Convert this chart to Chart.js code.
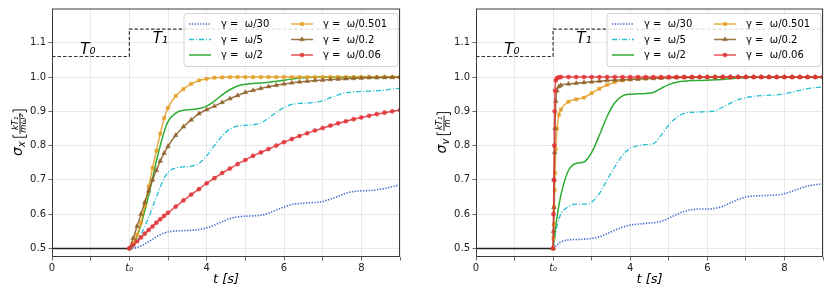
<!DOCTYPE html>
<html>
<head>
<meta charset="utf-8">
<script src="https://cdn.jsdelivr.net/npm/chart.js@4.4.0/dist/chart.umd.min.js"></script>
<style>
body{margin:0;background:#fff;width:831px;height:295px;overflow:hidden;position:relative}
canvas{position:absolute;top:0}
#chartX{left:0}
#chartV{left:415px}
</style>
</head>
<body>
<canvas id="chartX" width="415" height="295"></canvas>
<canvas id="chartV" width="416" height="295"></canvas>
<script>
// time grids (s)
const T_LEFT = [2.0, 2.1, 2.2, 2.3, 2.4, 2.5, 2.6, 2.7, 2.8, 2.9, 3.0,
  3.2, 3.4, 3.6, 3.8, 4.0, 4.2, 4.4, 4.6, 4.8, 5.0, 5.2, 5.4, 5.6, 5.8, 6.0,
  6.2, 6.4, 6.6, 6.8, 7.0, 7.2, 7.4, 7.6, 7.8, 8.0, 8.2, 8.4, 8.6, 8.8, 9.0];
const T_RIGHT = [2.0, 2.01, 2.02, 2.03, 2.04, 2.05, 2.07, 2.1, 2.15, 2.2, 2.4, 2.6, 2.8, 3.0,
  3.2, 3.4, 3.6, 3.8, 4.0, 4.2, 4.4, 4.6, 4.8, 5.0, 5.2, 5.4, 5.6, 5.8, 6.0,
  6.2, 6.4, 6.6, 6.8, 7.0, 7.2, 7.4, 7.6, 7.8, 8.0, 8.2, 8.4, 8.6, 8.8, 9.0];

const GAMMA_LABELS = ["γ =  ω/30", "γ =  ω/5", "γ =  ω/2", "γ =  ω/0.501", "γ =  ω/0.2", "γ =  ω/0.06"];

// sigma_x (left)
const SX_W30 = [0.5, 0.501, 0.503, 0.507, 0.513, 0.52, 0.527, 0.534, 0.54, 0.545, 0.548,
  0.551, 0.552, 0.553, 0.555, 0.56, 0.568, 0.578, 0.587, 0.592, 0.594,
  0.595, 0.597, 0.603, 0.612, 0.621, 0.628, 0.631, 0.633, 0.634, 0.637,
  0.644, 0.652, 0.661, 0.666, 0.668, 0.669, 0.671, 0.675, 0.68, 0.685];
const SX_W5 = [0.5, 0.505, 0.52, 0.54, 0.565, 0.59, 0.62, 0.65, 0.68, 0.705, 0.722,
  0.735, 0.738, 0.74, 0.748, 0.77, 0.8, 0.828, 0.848, 0.857, 0.859,
  0.861, 0.866, 0.88, 0.897, 0.911, 0.92, 0.923, 0.924, 0.926, 0.931,
  0.94, 0.948, 0.954, 0.957, 0.958, 0.959, 0.96, 0.962, 0.965, 0.967];
const SX_W2 = [0.5, 0.51, 0.535, 0.57, 0.61, 0.655, 0.705, 0.755, 0.8, 0.84, 0.87,
  0.895, 0.903, 0.905, 0.908, 0.915, 0.93, 0.948, 0.963, 0.974, 0.979,
  0.981, 0.983, 0.985, 0.988, 0.991, 0.994, 0.997, 0.999, 1.0, 1.0,
  1.0, 1.0, 1.0, 1.0, 1.0, 1.0, 1.0, 1.0, 1.0, 1.0];
const SX_W0501 = [0.5, 0.515, 0.54, 0.575, 0.625, 0.68, 0.735, 0.785, 0.835, 0.88, 0.91,
  0.945, 0.965, 0.98, 0.99, 0.995, 0.998, 0.999, 1.0, 1.0, 1.0,
  1.0, 1.0, 1.0, 1.0, 1.0, 1.0, 1.0, 1.0, 1.0, 1.0,
  1.0, 1.0, 1.0, 1.0, 1.0, 1.0, 1.0, 1.0, 1.0, 1.0];
const SX_W02 = [0.5, 0.53, 0.565, 0.6, 0.635, 0.668, 0.7, 0.728, 0.755, 0.778, 0.798,
  0.83, 0.855, 0.875, 0.893, 0.905, 0.915, 0.926, 0.937, 0.946, 0.955,
  0.961, 0.967, 0.972, 0.976, 0.98, 0.983, 0.986, 0.988, 0.99, 0.991,
  0.993, 0.994, 0.995, 0.996, 0.997, 0.998, 0.998, 0.999, 0.999, 1.0];
const SX_W006 = [0.5, 0.51, 0.521, 0.532, 0.543, 0.554, 0.564, 0.575, 0.585, 0.595, 0.604,
  0.622, 0.64, 0.657, 0.673, 0.69, 0.705, 0.72, 0.733, 0.746, 0.758,
  0.77, 0.78, 0.79, 0.8, 0.81, 0.819, 0.828, 0.836, 0.844, 0.851,
  0.858, 0.865, 0.871, 0.877, 0.882, 0.887, 0.892, 0.896, 0.9, 0.904];

// sigma_v (right)
const SV_W30 = [0.5, 0.501, 0.502, 0.503, 0.504, 0.505, 0.507, 0.51, 0.515, 0.519, 0.525, 0.526, 0.527, 0.529,
  0.534, 0.543, 0.553, 0.562, 0.568, 0.571, 0.573, 0.575, 0.579, 0.588,
  0.599, 0.608, 0.613, 0.615, 0.615, 0.617, 0.623, 0.633, 0.643, 0.65,
  0.653, 0.654, 0.655, 0.656, 0.66, 0.667, 0.675, 0.682, 0.686, 0.688];
const SV_W5 = [0.5, 0.507, 0.514, 0.521, 0.528, 0.535, 0.548, 0.565, 0.585, 0.6, 0.622, 0.629, 0.629, 0.635,
  0.66, 0.7, 0.738, 0.772, 0.792, 0.8, 0.803, 0.806, 0.83, 0.86,
  0.882, 0.894, 0.897, 0.898, 0.899, 0.902, 0.912, 0.924, 0.934, 0.94,
  0.944, 0.946, 0.947, 0.948, 0.951, 0.956, 0.961, 0.966, 0.969, 0.971];
const SV_W2 = [0.5, 0.51, 0.52, 0.53, 0.54, 0.55, 0.567, 0.59, 0.625, 0.655, 0.728, 0.748, 0.752, 0.78,
  0.83, 0.885, 0.925, 0.945, 0.95, 0.951, 0.952, 0.955, 0.967, 0.978,
  0.985, 0.988, 0.99, 0.99, 0.991, 0.992, 0.993, 0.995, 0.997, 0.999,
  1.0, 1.0, 1.0, 1.0, 1.0, 1.0, 1.0, 1.0, 1.0, 1.0];
const SV_W0501 = [0.5, 0.53, 0.57, 0.62, 0.67, 0.72, 0.79, 0.85, 0.89, 0.905, 0.928, 0.935, 0.94, 0.953,
  0.966, 0.977, 0.985, 0.99, 0.993, 0.995, 0.996, 0.997, 0.998, 0.999,
  1.0, 1.0, 1.0, 1.0, 1.0, 1.0, 1.0, 1.0, 1.0, 1.0,
  1.0, 1.0, 1.0, 1.0, 1.0, 1.0, 1.0, 1.0, 1.0, 1.0];
const SV_W02 = [0.5, 0.55, 0.62, 0.7, 0.78, 0.85, 0.93, 0.96, 0.972, 0.976, 0.98, 0.982, 0.984, 0.986,
  0.988, 0.99, 0.991, 0.992, 0.993, 0.994, 0.995, 0.996, 0.997, 0.998,
  0.998, 0.999, 0.999, 1.0, 1.0, 1.0, 1.0, 1.0, 1.0, 1.0,
  1.0, 1.0, 1.0, 1.0, 1.0, 1.0, 1.0, 1.0, 1.0, 1.0];
const SV_W006 = [0.5, 0.6, 0.7, 0.8, 0.9, 0.96, 0.99, 0.997, 0.999, 1.0, 1.0, 1.0, 1.0, 1.0,
  1.0, 1.0, 1.0, 1.0, 1.0, 1.0, 1.0, 1.0, 1.0, 1.0,
  1.0, 1.0, 1.0, 1.0, 1.0, 1.0, 1.0, 1.0, 1.0, 1.0,
  1.0, 1.0, 1.0, 1.0, 1.0, 1.0, 1.0, 1.0, 1.0, 1.0];

// before t0 and the temperature step
const BASE_T = [0, 2];
const BASE_V = [0.5, 0.5];
const STEP_T = [0, 2, 2, 9];
const STEP_V = [1.06, 1.06, 1.14, 1.14];
const T_LABELS = ["T₀", "T₁"];
const T_LABEL_AT = [[0.93, 1.078], [2.8, 1.11]];

const X_TICKS = [0, 1, 2, 3, 4, 5, 6, 7, 8, 9];
const Y_TICKS = [0.5, 0.6, 0.7, 0.8, 0.9, 1.0, 1.1];

const STYLES = [
  {color: "rgba(55,95,210,0.95)", dash: [1.3, 1.5], width: 1.6},
  {color: "rgba(23,186,207,0.95)", dash: [5, 2, 1, 2], width: 1.3},
  {color: "rgba(34,168,40,0.95)", dash: [], width: 1.5},
  {color: "rgba(228,158,35,0.85)", dash: [], width: 1.5, marker: "rect", r: 2.3},
  {color: "rgba(145,100,45,0.9)", dash: [], width: 1.5, marker: "triangle", r: 2.7},
  {color: "rgba(225,50,55,0.85)", dash: [], width: 1.5, marker: "circle", r: 2.1}
];

const FONT = "'DejaVu Sans', sans-serif";

function pts(ts, vs) {
  return ts.map((t, i) => ({x: t, y: vs[i]}));
}

function drawYTitle(ctx, cx, cy, sub, den) {
  ctx.save();
  ctx.translate(cx, cy);
  ctx.rotate(-Math.PI / 2);
  ctx.fillStyle = "#000";
  ctx.strokeStyle = "#000";
  ctx.lineWidth = 0.9;
  ctx.textBaseline = "alphabetic";
  ctx.textAlign = "left";
  ctx.font = "italic 14px " + FONT;
  const wS = ctx.measureText("σ").width;
  ctx.font = "italic 10px " + FONT;
  const wSub = ctx.measureText(sub).width;
  ctx.font = "italic 8.5px " + FONT;
  const wF = Math.max(ctx.measureText("kT₁").width, ctx.measureText(den).width) + 3;
  const total = wS + wSub + 4 + 3 + wF + 3;
  let x = -total / 2;
  ctx.font = "italic 14px " + FONT;
  ctx.fillText("σ", x, 2);
  x += wS;
  ctx.font = "italic 10px " + FONT;
  ctx.fillText(sub, x, 5);
  x += wSub + 4;
  ctx.beginPath();
  ctx.moveTo(x + 2.5, -7); ctx.lineTo(x, -7); ctx.lineTo(x, 6.5); ctx.lineTo(x + 2.5, 6.5);
  ctx.stroke();
  x += 3;
  ctx.font = "italic 8.5px " + FONT;
  ctx.textAlign = "center";
  ctx.fillText("kT₁", x + wF / 2, -1.8);
  ctx.fillText(den, x + wF / 2, 5.8);
  ctx.beginPath();
  ctx.moveTo(x + 0.5, 0); ctx.lineTo(x + wF - 0.5, 0);
  ctx.stroke();
  x += wF;
  ctx.beginPath();
  ctx.moveTo(x, -7); ctx.lineTo(x + 2.5, -7); ctx.lineTo(x + 2.5, 6.5); ctx.lineTo(x, 6.5);
  ctx.stroke();
  ctx.restore();
}

const decor = {
  id: "decor",
  afterDatasetsDraw(chart, args, opts) {
    const ctx = chart.ctx;
    const a = chart.chartArea;
    const sx = chart.scales.x, sy = chart.scales.y;
    ctx.save();
    // frame
    ctx.strokeStyle = "#3c3c3c";
    ctx.lineWidth = 1;
    ctx.strokeRect(a.left + 0.5, a.top + 0.5, a.width - 1, a.height - 1);
    // T0 / T1
    ctx.fillStyle = "#000";
    ctx.font = "italic 15px " + FONT;
    ctx.textAlign = "center";
    ctx.textBaseline = "middle";
    T_LABELS.forEach((s, i) => {
      ctx.fillText(s, sx.getPixelForValue(T_LABEL_AT[i][0]), sy.getPixelForValue(T_LABEL_AT[i][1]));
    });
    // legend, two columns
    const bw = 214, bh = 53;
    const bx = a.right - 2 - bw, by = a.top + 5;
    ctx.beginPath();
    ctx.roundRect(bx, by, bw, bh, 3);
    ctx.fillStyle = "rgba(255,255,255,0.85)";
    ctx.fill();
    ctx.strokeStyle = "#d2d2d2";
    ctx.lineWidth = 1;
    ctx.stroke();
    GAMMA_LABELS.forEach((lab, i) => {
      const st = STYLES[i];
      const col = Math.floor(i / 3), row = i % 3;
      const yy = by + 10.5 + row * 15.5;
      const x0 = bx + (col ? 107 : 5), x1 = x0 + 22;
      ctx.strokeStyle = st.color;
      ctx.lineWidth = st.width;
      ctx.setLineDash(st.dash);
      ctx.beginPath();
      ctx.moveTo(x0, yy); ctx.lineTo(x1, yy);
      ctx.stroke();
      ctx.setLineDash([]);
      if (st.marker) {
        ctx.fillStyle = st.color;
        ctx.lineWidth = 0.5;
        Chart.helpers.drawPoint(ctx, {pointStyle: st.marker, radius: st.r, borderWidth: 0.5, rotation: 0}, (x0 + x1) / 2, yy);
      }
      ctx.fillStyle = "#000";
      ctx.font = "10px " + FONT;
      ctx.textAlign = "left";
      ctx.fillText(lab, x0 + 32, yy + 0.5);
    });
    // axis titles
    ctx.font = "italic 13px " + FONT;
    ctx.textAlign = "center";
    ctx.fillText("t [s]", (a.left + a.right) / 2, 280);
    drawYTitle(ctx, a.left - 32, (a.top + a.bottom) / 2, opts.sub, opts.den);
    ctx.restore();
  }
};

function makeChart(canvasId, times, series, yWidth, padRight, sub, den) {
  const datasets = series.map((vals, i) => {
    const st = STYLES[i];
    return {
      label: GAMMA_LABELS[i],
      data: pts(times, vals),
      borderColor: st.color,
      backgroundColor: st.color,
      borderWidth: st.width,
      borderDash: st.dash,
      pointStyle: st.marker || "circle",
      pointRadius: st.marker ? st.r : 0,
      pointBorderWidth: 0.5,
      pointBackgroundColor: st.color,
      pointBorderColor: st.color,
      cubicInterpolationMode: "monotone",
      order: 10 - i
    };
  });
  datasets.push({
    data: pts(BASE_T, BASE_V), borderColor: "#222", borderWidth: 1.5, pointRadius: 0, order: 20
  });
  datasets.push({
    data: pts(STEP_T, STEP_V), borderColor: "#333", borderWidth: 1.2, borderDash: [3.5, 2],
    pointRadius: 0, order: 21
  });
  return new Chart(document.getElementById(canvasId), {
    type: "line",
    data: {datasets: datasets},
    options: {
      responsive: false,
      animation: false,
      events: [],
      layout: {padding: {top: 8, right: padRight, left: 0, bottom: 0}},
      plugins: {legend: {display: false}, tooltip: {enabled: false}, decor: {sub: sub, den: den}},
      scales: {
        x: {
          type: "linear", min: 0, max: 9,
          afterBuildTicks: s => { s.ticks = X_TICKS.map(v => ({value: v})); },
          afterFit: s => { s.height = 38; },
          ticks: {
            autoSkip: false, maxRotation: 0, padding: 2, color: "#222",
            callback: v => v === 2 ? "t₀" : (v % 2 === 0 ? String(v) : ""),
            font: c => ({family: FONT, size: 10, style: (c.tick && c.tick.value === 2) ? "italic" : "normal"})
          },
          grid: {color: "#e3e3e3", lineWidth: 0.8, tickColor: "#444", tickLength: 3.5},
          border: {display: false}
        },
        y: {
          min: 0.475, max: 1.2,
          afterBuildTicks: s => { s.ticks = Y_TICKS.map(v => ({value: v})); },
          afterFit: s => { s.width = yWidth; },
          ticks: {
            padding: 2.5, color: "#222", font: {family: FONT, size: 10},
            callback: v => v.toFixed(1)
          },
          grid: {color: "#e3e3e3", lineWidth: 0.8, tickColor: "#444", tickLength: 3.5},
          border: {display: false}
        }
      }
    },
    plugins: [decor]
  });
}

makeChart("chartX", T_LEFT, [SX_W30, SX_W5, SX_W2, SX_W0501, SX_W02, SX_W006], 52, 15, "x", "mω²");
makeChart("chartV", T_RIGHT, [SV_W30, SV_W5, SV_W2, SV_W0501, SV_W02, SV_W006], 61, 8, "v", "m");
</script>
</body>
</html>
